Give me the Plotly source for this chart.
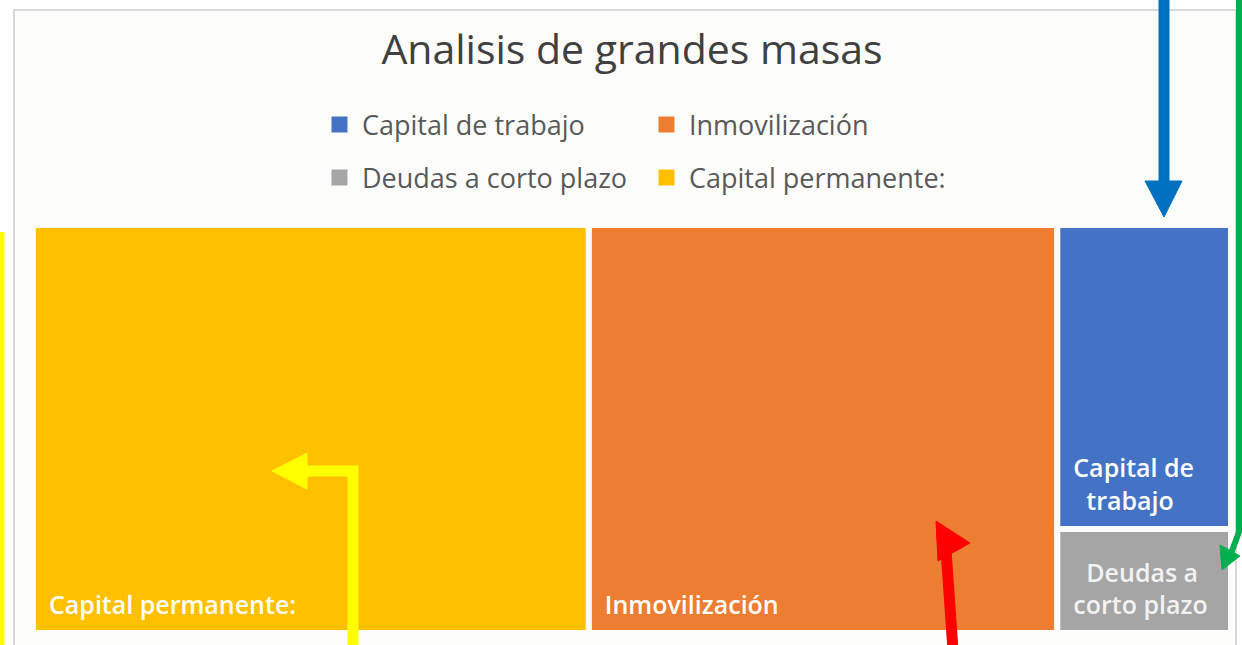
import plotly.graph_objects as go

# datos del treemap
labels = ["Capital permanente:", "Inmovilización", "Capital de trabajo", "Deudas a corto plazo"]
cell_lines = [["Capital permanente:"], ["Inmovilización"], ["Capital de", "trabajo"], ["Deudas a", "corto plazo"]]
values = [46.4, 39.1, 10.8, 3.7]
colors = ["#FFC000", "#ED7D31", "#4472C4", "#A5A5A5"]

# orden de la leyenda (dos filas)
legend_rows = [["Capital de trabajo", "Inmovilización"], ["Deudas a corto plazo", "Capital permanente:"]]

W, H = 1242, 645


def px(x, y):
    # pixel -> paper
    return x / W, 1 - y / H


def cell_label(lines):
    # las lineas cortas van centradas respecto a la mas larga (como en Excel)
    longest = max(len(s) for s in lines)
    out = []
    for s in lines:
        n = 2 + round((longest - len(s)) * 0.6)
        out.append("\u00a0" * n + s)
    # espacio invisible grande al final -> sube el texto desde el borde inferior
    out[-1] += '<span style="font-size:56px">\u00a0</span>'
    return "<br>".join(out)


fig = go.Figure()

x0, y0 = px(33, 633)
x1, y1 = px(1231, 225)
fig.add_trace(go.Treemap(
    labels=labels,
    parents=[""] * len(labels),
    values=values,
    text=[cell_label(l) for l in cell_lines],
    textinfo="text",
    textposition="bottom left",
    textfont=dict(family="Open Sans", size=25, color=["white", "white", "white", "#F2F2F2"], weight=600),
    marker=dict(colors=colors, line=dict(color="#FCFCFA", width=6),
                pad=dict(t=0, l=0, r=0, b=0)),
    tiling=dict(packing="squarify", pad=0),
    pathbar=dict(visible=False),
    domain=dict(x=[x0, x1], y=[y0, y1]),
    sort=True,
    hoverinfo="label+value",
))

# entradas de leyenda (trazas vacias)
color_of = dict(zip(labels, colors))
for i, row in enumerate(legend_rows):
    for name in row:
        fig.add_trace(go.Scatter(
            x=[None], y=[None], mode="markers", name=name,
            marker=dict(symbol="square", size=16, color=color_of[name]),
            legend="legend" if i == 0 else "legend2",
        ))

leg_common = dict(
    orientation="h", entrywidth=277, entrywidthmode="pixels", itemwidth=35,
    font=dict(family="Open Sans", size=27, color="#595959"),
    bgcolor="rgba(0,0,0,0)", xanchor="left", yanchor="middle",
    itemclick=False, itemdoubleclick=False,
)
lx, ly1 = px(317, 125)
_, ly2 = px(317, 178)

# marco del grafico
fx0, fy0 = px(14, 700)
fx1, fy1 = px(1236, 10)
shapes = [dict(type="rect", xref="paper", yref="paper", x0=fx0, y0=fy0, x1=fx1, y1=fy1,
               fillcolor="#FCFCFA", line=dict(color="#D9D9D9", width=2), layer="below")]


def seg(points, color, width=10):
    path = "M " + " L ".join(f"{px(x, y)[0]},{px(x, y)[1]}" for x, y in points)
    return dict(type="path", xref="paper", yref="paper", path=path,
                line=dict(color=color, width=width), layer="above")


def head(points, color):
    path = "M " + " L ".join(f"{px(x, y)[0]},{px(x, y)[1]}" for x, y in points) + " Z"
    return dict(type="path", xref="paper", yref="paper", path=path,
                fillcolor=color, line=dict(color=color, width=1), layer="above")


# flechas dibujadas encima
blue = "#0070C0"
shapes += [seg([(1164, -5), (1164, 185)], blue, 11),
           head([(1145, 181), (1182, 181), (1164, 217)], blue)]
green = "#00B050"
shapes += [seg([(1239, -5), (1239, 532), (1230, 556)], green, 6),
           head([(1222, 570), (1220, 545), (1240, 556)], green)]
yellow = "#FFFF00"
shapes += [seg([(2, 232), (2, 650)], yellow, 5),
           seg([(353, 650), (353, 471), (300, 471)], yellow, 11),
           head([(272, 471), (307, 453), (307, 489)], yellow)]
red = "#FF0000"
shapes += [seg([(953, 650), (946, 550)], red, 11),
           head([(936, 521), (938, 561), (970, 543)], red)]

fig.update_layout(
    width=W, height=H,
    margin=dict(l=0, r=0, t=0, b=0),
    paper_bgcolor="white",
    plot_bgcolor="rgba(0,0,0,0)",
    title=dict(text="Analisis de grandes masas", x=632 / W, xanchor="center",
               y=1 - 50 / H, yanchor="middle",
               font=dict(family="Open Sans", size=41, color="#404040")),
    xaxis=dict(visible=False), yaxis=dict(visible=False),
    legend=dict(x=lx, y=ly1, **leg_common),
    legend2=dict(x=lx, y=ly2, **leg_common),
    shapes=shapes,
)

fig.write_html("out.html", config={"displayModeBar": False},
               post_script="document.body.style.margin='0';")
